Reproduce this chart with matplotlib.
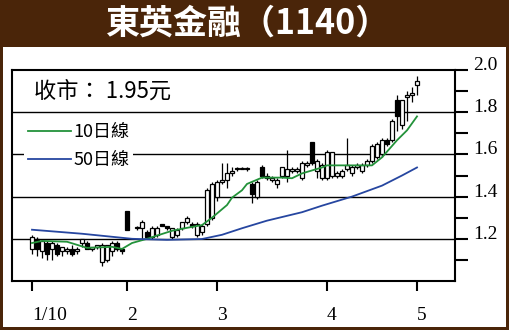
import matplotlib
matplotlib.use("Agg")
import matplotlib.pyplot as plt
from matplotlib.patches import Rectangle
import numpy as np

plt.rcParams['font.family'] = ['Noto Sans CJK TC', 'DejaVu Sans']

# trading-day slots (slot 20 = holiday gap)
days = list(range(0, 20)) + list(range(21, 78))
opens = [1.15, 1.20, 1.14, 1.18, 1.15, 1.17, 1.14, 1.14, 1.15, 1.14,
         1.18, 1.18, 1.15, 1.16, 1.09, 1.10, 1.14, 1.18, 1.15, 1.33,
         1.25, 1.25, 1.23, 1.21, 1.22, 1.27, 1.26, 1.21, 1.22, 1.25,
         1.28, 1.27, 1.22, 1.23, 1.27, 1.30,
         1.40, 1.47, 1.48, 1.51, 1.53, 1.53, 1.53, 1.46, 1.40, 1.54,
         1.50, 1.48, 1.46, 1.50, 1.50, 1.52, 1.52, 1.49, 1.55, 1.66,
         1.52, 1.49,
         1.49, 1.50, 1.50, 1.50, 1.53, 1.51, 1.54, 1.52, 1.55, 1.57,
         1.59, 1.60, 1.67, 1.67, 1.86, 1.74, 1.87, 1.88,
         1.93]
highs = [1.22, 1.21, 1.19, 1.19, 1.19, 1.18, 1.16, 1.16, 1.17, 1.16,
         1.20, 1.19, 1.16, 1.17, 1.18, 1.17, 1.19, 1.19, 1.15, 1.33,
         1.26, 1.29, 1.24, 1.26, 1.26, 1.27, 1.26, 1.25, 1.25, 1.28,
         1.31, 1.28, 1.28, 1.27, 1.44, 1.47,
         1.48, 1.56, 1.56, 1.54, 1.54, 1.54, 1.54, 1.47, 1.48, 1.55,
         1.51, 1.50, 1.49, 1.54, 1.62, 1.54, 1.54, 1.57, 1.57, 1.66,
         1.58, 1.56,
         1.62, 1.61, 1.52, 1.53, 1.68, 1.55, 1.56, 1.56, 1.58, 1.65,
         1.66, 1.68, 1.68, 1.77, 1.88, 1.86, 1.90, 1.92,
         1.97]
lows = [1.13, 1.12, 1.11, 1.10, 1.10, 1.12, 1.12, 1.13, 1.12, 1.13,
        1.16, 1.15, 1.14, 1.15, 1.07, 1.09, 1.12, 1.14, 1.13, 1.24,
        1.24, 1.20, 1.20, 1.20, 1.21, 1.26, 1.24, 1.20, 1.21, 1.24,
        1.27, 1.25, 1.21, 1.22, 1.26, 1.29,
        1.38, 1.46, 1.44, 1.50, 1.52, 1.53, 1.52, 1.37, 1.39, 1.49,
        1.48, 1.47, 1.44, 1.49, 1.47, 1.51, 1.51, 1.48, 1.54, 1.55,
        1.49, 1.48,
        1.48, 1.49, 1.49, 1.49, 1.52, 1.50, 1.53, 1.51, 1.54, 1.56,
        1.58, 1.59, 1.64, 1.66, 1.71, 1.72, 1.76, 1.85,
        1.88]
closes = [1.21, 1.15, 1.19, 1.13, 1.18, 1.13, 1.16, 1.15, 1.13, 1.15,
          1.20, 1.15, 1.16, 1.17, 1.17, 1.17, 1.18, 1.15, 1.14, 1.24,
          1.25, 1.28, 1.21, 1.25, 1.25, 1.26, 1.25, 1.25, 1.24, 1.28,
          1.30, 1.26, 1.27, 1.26, 1.43, 1.46,
          1.47, 1.48, 1.51, 1.52, 1.53, 1.53, 1.53, 1.41, 1.47, 1.50,
          1.49, 1.49, 1.48, 1.54, 1.53, 1.53, 1.53, 1.56, 1.56, 1.56,
          1.57, 1.55,
          1.61, 1.61, 1.51, 1.52, 1.55, 1.54, 1.55, 1.55, 1.57, 1.64,
          1.65, 1.67, 1.65, 1.76, 1.78, 1.86, 1.88, 1.89,
          1.95]

# moving averages
ma10_x = [0, 2, 7, 11, 16, 18, 20, 23, 28, 31, 34, 36, 39, 40, 42, 43,
          46, 50, 52, 54, 58, 59, 68, 70, 73, 75, 77]
ma10 = [1.18, 1.19, 1.186, 1.157, 1.162, 1.152, 1.18, 1.20, 1.238, 1.252,
        1.265, 1.30, 1.36, 1.395, 1.43, 1.46, 1.49, 1.49, 1.487, 1.51,
        1.538, 1.548, 1.548, 1.586, 1.667, 1.714, 1.78]
ma50_x = [0, 10, 20, 27, 34, 38, 42, 47, 54, 58, 64, 70, 74, 77]
ma50 = [1.243, 1.224, 1.20, 1.195, 1.199, 1.219, 1.25, 1.286, 1.326, 1.357,
        1.40, 1.452, 1.50, 1.538]

tick_pos = [0, 19, 37, 59, 77]
tick_lab = ['1/10', '2', '3', '4', '5']

brown = '#4a2509'
fig = plt.figure(figsize=(5.09, 3.30), dpi=100)
fig.patch.set_facecolor(brown)
fig.patches.append(Rectangle((3/509, 3/330), 503/509, 280/330,
                             transform=fig.transFigure, facecolor='white',
                             edgecolor='none', zorder=-1))
fig.text(0.487, 1-23/330, '東英金融（1140）', color='white', fontsize=24.5,
         fontweight='black', ha='center', va='center')

ax = fig.add_axes([12/509, 1-281/330, 443/509, 211/330])
ax.set_zorder(2)
ax.set_facecolor('white')

o = np.array(opens); h = np.array(highs); l = np.array(lows); c = np.array(closes)
x = np.array(days)
ax.vlines(x, l, h, color='black', lw=0.9, zorder=2)
up = c >= o
bot = np.minimum(o, c)
hgt = np.maximum(np.abs(c - o), 0.004)
ax.bar(x[up], hgt[up], bottom=bot[up], width=0.8, facecolor='white',
       edgecolor='black', lw=0.9, zorder=3)
ax.bar(x[~up], hgt[~up], bottom=bot[~up], width=0.8, facecolor='black',
       edgecolor='black', lw=0.9, zorder=3)

ax.plot(ma10_x, ma10, color='#23923a', lw=1.3, zorder=4, label='10日線')
ax.plot(ma50_x, ma50, color='#2646a0', lw=1.3, zorder=4, label='50日線')

for g in [1.2, 1.4, 1.6, 1.8]:
    ax.axhline(g, color='black', lw=1.0, zorder=1)

ax.set_xlim(-4, 84.6)
ax.set_ylim(1.0, 2.0)
for s in ax.spines.values():
    s.set_linewidth(1.5)

ax.yaxis.tick_right()
ax.set_yticks([1.2, 1.4, 1.6, 1.8, 2.0])
ax.set_yticklabels(['1.2', '1.4', '1.6', '1.8', '2.0'])
ax.set_yticks([1.1, 1.3, 1.5, 1.7, 1.9], minor=True)
ax.tick_params(axis='y', which='both', direction='out', length=9, width=1.5,
               pad=4, labelsize=14)
for t in ax.get_yticklabels():
    t.set_family('Liberation Serif')
    t.set_verticalalignment('baseline')

ax.set_xticks(tick_pos)
ax.set_xticklabels(tick_lab)
ax.tick_params(axis='x', direction='out', length=7, width=1.5, pad=12,
               labelsize=14)
for t in ax.get_xticklabels():
    t.set_family('Liberation Serif')
    t.set_horizontalalignment('left')

ax.text(0.050, 0.90, '收市： 1.95元', transform=ax.transAxes, fontsize=16,
        ha='left', va='center', family=['Noto Sans CJK TC', 'DejaVu Sans'])

leg = ax.legend(loc='upper left', bbox_to_anchor=(0.028, 0.765), fontsize=13,
                frameon=True, fancybox=False, framealpha=1, edgecolor='none',
                handlelength=2.4, handletextpad=0.1, labelspacing=0.55,
                borderpad=0.2, borderaxespad=0)
leg.set_zorder(5)

fig.savefig('out.png', dpi=100, facecolor=fig.get_facecolor())
